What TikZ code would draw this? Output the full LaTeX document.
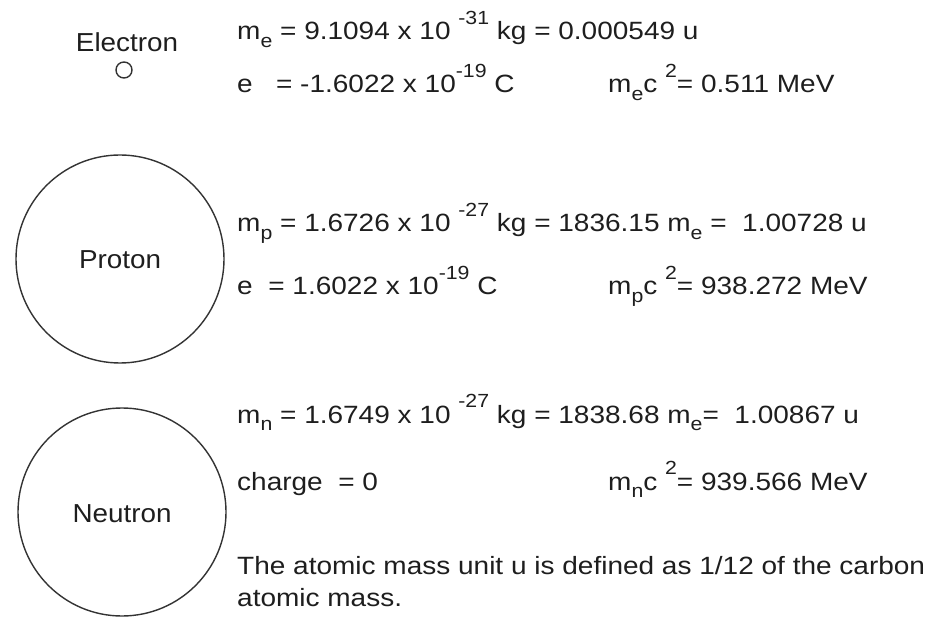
\documentclass[tikz,border=0pt]{standalone}
\usepackage{fontspec}
\setmainfont{Liberation Sans}
\newfontfamily\widefont[FakeStretch=1.12]{Liberation Sans}
\newfontfamily\lblfont[FakeStretch=1.07]{Liberation Sans}
\newcommand{\lo}[1]{\raisebox{-0.3em}{\fontsize{19}{19}\selectfont #1}}
\newcommand{\hi}[1]{\raisebox{0.62em}{\fontsize{19}{19}\selectfont #1}}
\definecolor{ink}{HTML}{1E1E1E}
\definecolor{ring}{HTML}{333333}
\begin{document}
\begin{tikzpicture}[x=1pt,y=-1pt,
  txt/.style={anchor=base west,inner sep=0pt,text=ink,font=\widefont\fontsize{25}{30}\selectfont},
  lbl/.style={anchor=base,inner sep=0pt,text=ink,font=\lblfont\fontsize{26}{30}\selectfont},
  particle/.style={circle,draw=ring,line width=1.4pt,inner sep=0pt}]
\useasboundingbox (0,0) rectangle (926,617);
% Electron
\node[lbl] (elab) at (127,52) {Electron};
\node[particle,minimum size=16pt] (ecirc) at (124,70) {};
\node[txt] (e1) at (237,40) {m\lo{e} = 9.1094 x 10 \hi{-31} kg = 0.000549 u};
\node[txt] (e2) at (237,93) {e \ \ = -1.6022 x 10\hi{-19} C};
\node[txt] (e3) at (608,93) {m\lo{e}c \hi{2}= 0.511 MeV};
% Proton
\node[particle,minimum size=208pt] (pcirc) at (120,259) {};
\node[lbl] (plab) at (120,269) {Proton};
\node[txt] (p1) at (237,232) {m\lo{p} = 1.6726 x 10 \hi{-27} kg = 1836.15 m\lo{e} = \ 1.00728 u};
\node[txt] (p2) at (237,295) {e \ = 1.6022 x 10\hi{-19} C};
\node[txt] (p3) at (608,295) {m\lo{p}c \hi{2}= 938.272 MeV};
% Neutron
\node[particle,minimum size=208pt] (ncirc) at (122,512) {};
\node[lbl] (nlab) at (122,522) {Neutron};
\node[txt] (n1) at (237,423) {m\lo{n} = 1.6749 x 10 \hi{-27} kg = 1838.68 m\lo{e}= \ 1.00867 u};
\node[txt] (n2) at (237,490) {charge \ = 0};
\node[txt] (n3) at (608,490) {m\lo{n}c \hi{2}= 939.566 MeV};
\node[txt] (note1) at (237,574) {The atomic mass unit u is defined as 1/12 of the carbon};
\node[txt] (note2) at (237,606) {atomic mass.};
\end{tikzpicture}
\end{document}
